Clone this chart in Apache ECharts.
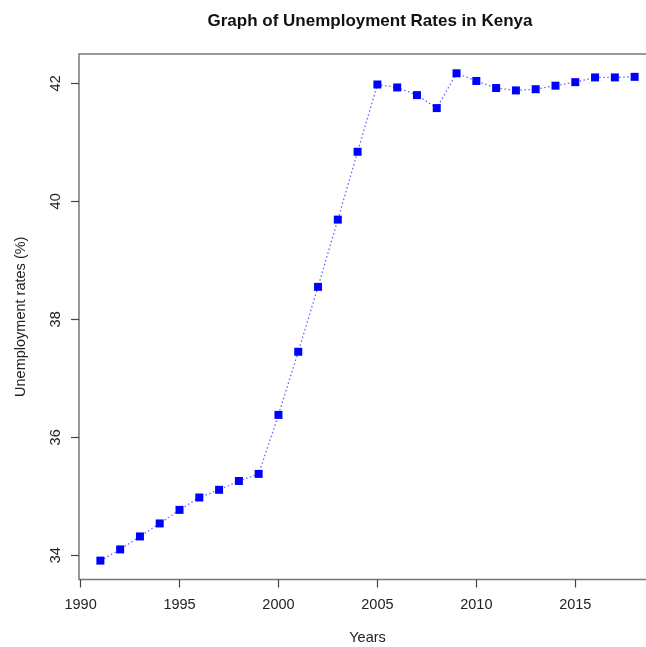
<!DOCTYPE html>
<html>
<head>
<meta charset="utf-8">
<script src="https://cdn.jsdelivr.net/npm/echarts@6/dist/echarts.min.js"></script>
<style>
  html, body { margin: 0; padding: 0; background: #fff; }
  #chart { width: 646px; height: 647px; }
</style>
</head>
<body>
<div id="chart"></div>
<script>
// Annual unemployment rate in Kenya, percent
const years = [1991, 1992, 1993, 1994, 1995, 1996, 1997, 1998, 1999, 2000,
  2001, 2002, 2003, 2004, 2005, 2006, 2007, 2008, 2009, 2010,
  2011, 2012, 2013, 2014, 2015, 2016, 2017, 2018];
const rates = [33.91, 34.10, 34.32, 34.54, 34.77, 34.98, 35.11, 35.26, 35.38, 36.38,
  37.45, 38.55, 39.69, 40.84, 41.98, 41.93, 41.80, 41.58, 42.17, 42.04,
  41.92, 41.88, 41.90, 41.96, 42.02, 42.10, 42.10, 42.11];
const xTicks = [1990, 1995, 2000, 2005, 2010, 2015];
const yTicks = [34, 36, 38, 40, 42];

const chart = echarts.init(document.getElementById('chart'), null, { renderer: 'canvas' });
const font = 'Liberation Sans, Arial, sans-serif';

chart.setOption({
  animation: false,
  backgroundColor: '#fff',
  title: {
    text: 'Graph of Unemployment Rates in Kenya',
    left: 365,
    top: 8,
    textAlign: 'center',
    textStyle: { fontFamily: font, fontSize: 17, fontWeight: 'bold', color: '#111' }
  },
  grid: {
    left: 79, top: 54, width: 577, height: 525.5,
    outerBoundsMode: 'none',
    containLabel: false,
    show: true, borderColor: '#777', borderWidth: 1.5, backgroundColor: 'transparent'
  },
  xAxis: {
    type: 'value',
    min: 1989.92,
    max: 2019.08,
    name: 'Years',
    nameLocation: 'middle',
    nameGap: 51,
    nameTextStyle: { fontFamily: font, fontSize: 14.5, color: '#222' },
    axisLine: { show: false },
    splitLine: { show: false },
    axisTick: { show: true, length: 8, customValues: xTicks, lineStyle: { color: '#444', width: 1.2 } },
    axisLabel: { customValues: xTicks, margin: 18, fontFamily: font, fontSize: 14.5, color: '#222',
      formatter: v => String(v) }
  },
  yAxis: {
    type: 'value',
    min: 33.59,
    max: 42.497,
    name: 'Unemployment rates (%)',
    nameLocation: 'middle',
    nameGap: 51,
    nameRotate: 90,
    nameTextStyle: { fontFamily: font, fontSize: 14.5, color: '#222' },
    axisLine: { show: false },
    splitLine: { show: false },
    axisTick: { show: true, length: 8, customValues: yTicks, lineStyle: { color: '#444', width: 1.2 } },
    axisLabel: { customValues: yTicks, rotate: 90, margin: 16, fontFamily: font, fontSize: 14.5, color: '#222',
      formatter: v => String(v) }
  },
  series: [{
    type: 'line',
    data: years.map((y, i) => [y, rates[i]]),
    symbol: 'rect',
    symbolSize: 8,
    itemStyle: { color: '#0000ff' },
    lineStyle: { color: '#4a4aff', width: 1.3, type: [1.6, 2.4], opacity: 0.8 },
    z: 3
  }]
});
</script>
</body>
</html>
